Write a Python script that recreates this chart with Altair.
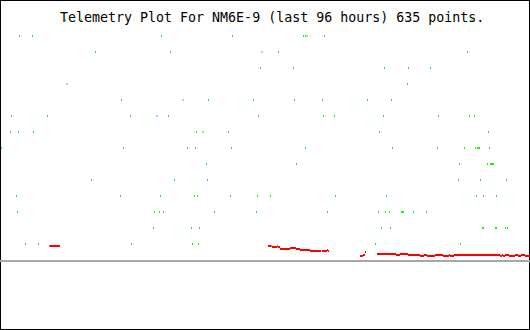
import altair as alt
import pandas as pd

TITLE = "Telemetry Plot For NM6E-9 (last 96 hours) 635 points."

# Digital (bit) channels: hours into the 96-hour window where each bit was set
bit14 = [11.91, 14.82, 73.73, 85.82]
bit13 = [3.55, 5.91, 29.36, 42.27, 55.18, 55.55, 55.82, 59.0]
bit12 = [17.36, 31.0, 47.64, 50.64, 85.0]
bit11 = [47.36, 53.36, 69.91, 74.27, 78.27]
bit10 = [12.18, 74.09]
bit09 = [22.09, 33.27, 37.91, 46.09, 53.55, 58.64, 66.82, 71.18]
bit08 = [2.09, 8.64, 23.73, 28.55, 30.64, 47.0, 58.82, 60.82, 69.73, 79.73, 85.36, 86.27]
bit07 = [1.91, 3.36, 6.09, 35.73, 36.91, 41.55, 69.0, 88.82]
bit06 = [0.27, 22.45, 34.09, 35.55, 42.09, 55.55, 71.36, 79.55, 84.45, 86.45, 86.82,
         87.0, 87.18, 89.0]
bit05 = [37.55, 53.91, 83.55, 88.64, 89.18, 89.36, 89.55, 89.73]
bit04 = [16.64, 31.73, 37.73, 83.36, 87.36, 92.09]
bit03 = [3.0, 21.91, 29.18, 35.36, 35.91, 41.91, 46.82, 49.18, 61.0, 70.27, 86.64,
         87.91, 90.27]
bit02 = [3.18, 28.09, 29.0, 29.73, 39.0, 46.64, 59.55, 68.82, 70.09, 70.82, 73.0,
         73.18, 73.36, 75.18, 77.55]
bit01 = [27.91, 34.82, 36.27, 69.36, 71.0, 87.73, 87.91, 90.09, 90.27, 91.91, 92.27]
bit00 = [4.64, 7.0, 23.91, 35.0, 36.09, 68.27, 83.73]

# Analog channel: steps (start hour, end hour, level)
red_start = [8.97, 48.73, 49.45, 50.36, 50.48, 50.91, 52.73, 53.82, 54.55, 56.36,
             58.55, 59.45, 59.64, 65.45, 66.0, 66.36, 68.55, 72.0, 72.73, 74.18,
             76.36, 77.09, 77.64, 79.09, 80.55, 81.64, 81.82, 82.55, 90.91, 91.27,
             91.45, 91.82, 92.55, 93.64, 94.18, 94.73, 95.45]
red_end = [10.91, 49.39, 50.36, 50.48, 50.91, 52.73, 53.82, 54.55, 56.36, 58.36,
           59.45, 59.64, 59.82, 66.0, 66.36, 66.55, 72.0, 72.73, 74.18, 76.36,
           77.09, 77.64, 79.09, 80.55, 81.64, 81.82, 82.55, 90.91, 91.27, 91.45,
           91.82, 92.55, 93.64, 94.18, 94.73, 95.45, 96.4]
red_level = [15, 15, 14, 15, 14, 12, 13, 12, 11, 10,
             10, 11, 10, 5, 6, 9, 7, 6, 7, 6,
             5, 6, 5, 6, 5, 6, 5, 6, 5, 6,
             5, 6, 5, 6, 5, 6, 5]

bits = [bit00, bit01, bit02, bit03, bit04, bit05, bit06, bit07, bit08, bit09,
        bit10, bit11, bit12, bit13, bit14]
green_df = pd.DataFrame(
    [{"hour": h, "bit": i} for i, row in enumerate(bits) for h in row]
)
red_df = pd.DataFrame({"start": red_start, "end": red_end, "level": red_level})
base_df = pd.DataFrame({"level": [0]})
title_df = pd.DataFrame({"t": [TITLE]})

xs = alt.Scale(domain=[0, 96], range=[0, 528], nice=False, zero=False)
ys_red = alt.Scale(domain=[0, 20], range=[261, 241], nice=False, zero=False)
ys_bit = alt.Scale(domain=[0, 14], range=[244, 20], nice=False, zero=False)

baseline = alt.Chart(base_df).mark_rule(strokeWidth=2, color="#a8a8a8").encode(
    y=alt.Y("level:Q", scale=ys_red, axis=None)
)

red = alt.Chart(red_df).mark_rule(strokeWidth=2, color="#ff0000", clip=True).encode(
    x=alt.X("start:Q", scale=xs, axis=None),
    x2="end:Q",
    y=alt.Y("level:Q", scale=ys_red, axis=None),
)

title = alt.Chart(title_df).mark_text(
    align="left", baseline="alphabetic", font="DejaVu Sans Mono",
    fontSize=13.3, color="black"
).encode(x=alt.value(60), y=alt.value(22), text="t:N")

green = alt.Chart(green_df).mark_tick(
    orient="vertical", size=2, thickness=1, color="#00ff00", opacity=1
).encode(
    x=alt.X("hour:Q", scale=xs, axis=None),
    y=alt.Y("bit:Q", scale=ys_bit, axis=None),
)

chart = (
    alt.layer(baseline, red, title, green)
    .resolve_scale(y="independent")
    .properties(width=530, height=330, padding=0, autosize="none", background="white")
    .configure_view(stroke="black", strokeWidth=2)
)

chart.save("out.html", embed_options={"renderer": "svg", "actions": False})
